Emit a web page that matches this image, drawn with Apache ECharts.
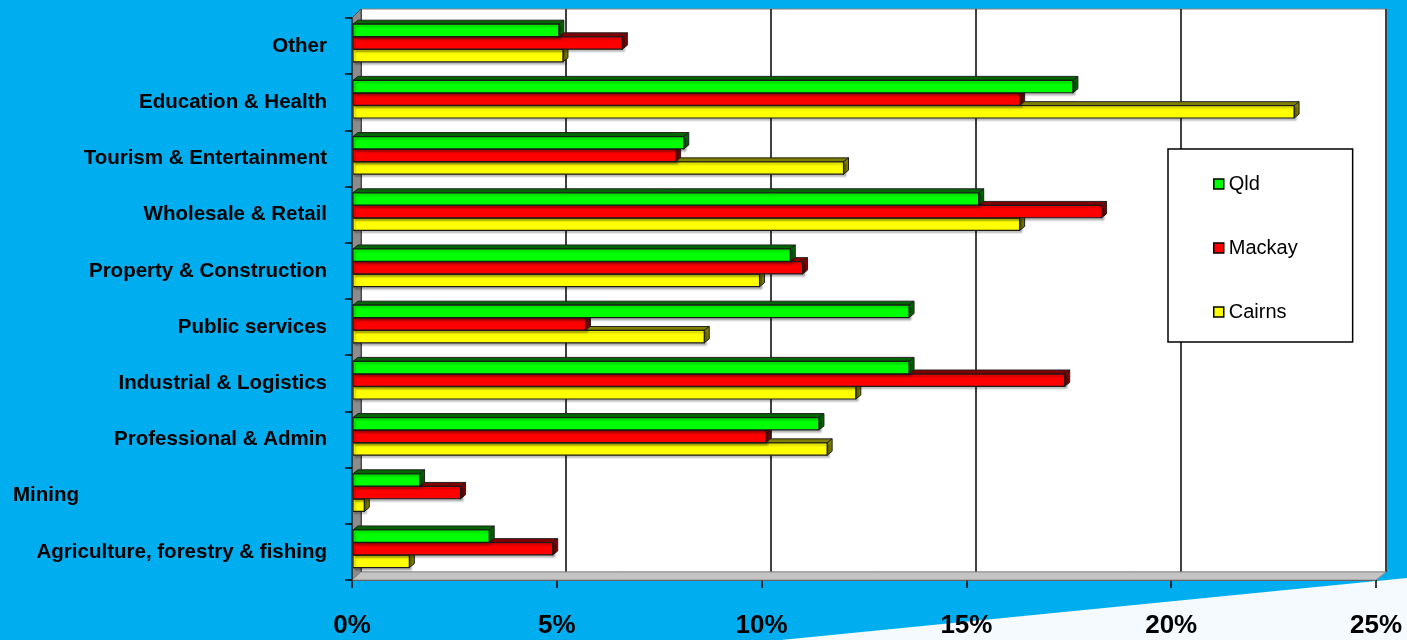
<!DOCTYPE html>
<html><head><meta charset="utf-8">
<script src="https://cdn.jsdelivr.net/npm/echarts@6/dist/echarts.min.js"></script>
<style>html,body{margin:0;padding:0;background:#00AEEF;}#c{width:1407px;height:640px;}</style>
</head><body><div id="c"></div>
<script>
const categories = ['Agriculture, forestry & fishing','Mining','Professional & Admin','Industrial & Logistics','Public services','Property & Construction','Wholesale & Retail','Tourism & Entertainment','Education & Health','Other'];
const qld    = [3.35, 1.65, 11.4, 13.6, 13.6, 10.7, 15.3, 8.1, 17.6, 5.05];
const mackay = [4.9, 2.65, 10.1, 17.4, 5.7, 11.0, 18.3, 7.9, 16.3, 6.6];
const cairns = [1.4, 0.3, 11.6, 12.3, 8.6, 9.95, 16.3, 12.0, 23.0, 5.15];
const xTicks = [0, 5, 10, 15, 20, 25];

const seriesDefs = [
  {name:'Qld', data:qld, face:'#00FF00', dark:'#006600', k:0, z:5},
  {name:'Mackay', data:mackay, face:'#FF0000', dark:'#800000', k:1, z:4},
  {name:'Cairns', data:cairns, face:'#FFFF00', dark:'#808000', k:2, z:3}
];

function makeRender(def){
  return function(params, api){
    const val = api.value(0), ci = api.value(1);
    const c = api.coord([0, ci]);
    const e = api.coord([val, ci]);
    const bh = api.size([0, 1])[1];
    const pitch = bh * 0.225;
    const y0 = c[1] - bh * 0.39 + def.k * pitch;
    const h = pitch - 0.3;
    const x0 = c[0] + 1, x1 = e[0];
    const dx = 5, dy = -4;
    return {type:'group', children:[
      {type:'polygon', shape:{points:[[x0,y0],[x0+dx,y0+dy],[x1+dx,y0+dy],[x1,y0]]},
        style:{fill:def.dark, stroke:'#202020', lineWidth:1}},
      {type:'polygon', shape:{points:[[x1,y0],[x1+dx,y0+dy],[x1+dx,y0+h+dy],[x1,y0+h]]},
        style:{fill:def.dark, stroke:'#202020', lineWidth:1}},
      {type:'rect', shape:{x:x0, y:y0, width:Math.max(0,x1-x0), height:h},
        style:{fill:def.face, stroke:'#1a1a1a', lineWidth:1.2, shadowColor:'rgba(0,0,0,0.25)', shadowBlur:2, shadowOffsetX:2, shadowOffsetY:2}}
    ]};
  };
}

const chart = echarts.init(document.getElementById('c'), null, {renderer:'canvas'});
const option = {
  backgroundColor:'#00AEEF',
  animation:false,
  textStyle:{fontFamily:'Liberation Sans, Arial, sans-serif'},
  graphic:[
    {type:'polygon', z:-10, shape:{points:[[781,640],[1407,578],[1407,640]]}, style:{fill:'#F4FAFE'}},
    {type:'polygon', z:1, shape:{points:[[352,18],[361,9],[361,572],[352,580]]}, style:{fill:'#8c8c8c', stroke:'#505050', lineWidth:1}},
    {type:'polygon', z:1, shape:{points:[[352,580],[361,572],[1386,572],[1376,580]]}, style:{fill:'#c4c4c4', stroke:'#909090', lineWidth:1}}
  ],
  legend:{
    orient:'vertical', left:1168, top:149,
    data:['Qld','Mackay','Cairns'],
    backgroundColor:'#fff', borderColor:'#000', borderWidth:1.5,
    padding:[25, 55, 20, 45],
    itemGap:44, itemWidth:10, itemHeight:10, icon:'rect',
    itemStyle:{borderColor:'#000', borderWidth:1.5},
    textStyle:{fontSize:20, color:'#000', fontFamily:'Liberation Sans, Arial, sans-serif'}
  },
  grid:[
    {left:361, right:21, top:9, bottom:68, show:true, backgroundColor:'#fff', borderColor:'#808080', borderWidth:1},
    {left:352, right:31, top:18, bottom:60}
  ],
  xAxis:[
    {gridIndex:0, type:'value', min:0, max:25, interval:5, axisLabel:{show:false}, axisTick:{show:false}, axisLine:{show:false},
      splitLine:{show:true, lineStyle:{color:'#404040', width:2}}},
    {gridIndex:1, type:'value', min:0, max:25, interval:5, splitLine:{show:false},
      axisLine:{show:true, lineStyle:{color:'#3a3a3a', width:2}},
      axisTick:{show:true, length:8, lineStyle:{color:'#000', width:1.5}},
      axisLabel:{margin:33, fontSize:26, fontWeight:'bold', color:'#000',
        formatter:function(v){ return xTicks.indexOf(v) >= 0 ? v + '%' : ''; }}}
  ],
  yAxis:[
    {gridIndex:0, type:'category', data:categories, show:false},
    {gridIndex:1, type:'category', data:categories, z:3,
      axisLine:{show:true, lineStyle:{color:'#3a3a3a', width:2}},
      axisTick:{show:true, length:7, lineStyle:{color:'#000', width:1.5}},
      splitLine:{show:false},
      axisLabel:{margin:25, fontSize:20.5, fontWeight:'bold', color:'#000',
        formatter:function(v){ return v === 'Mining' ? '{m|' + v + '}' : v; },
        rich:{m:{width:314, align:'left', fontSize:20.5, fontWeight:'bold', color:'#000'}}}}
  ],
  series: seriesDefs.map(function(def){
    return {
      name:def.name, type:'custom', xAxisIndex:1, yAxisIndex:1, z:def.z,
      itemStyle:{color:def.face},
      renderItem: makeRender(def),
      encode:{x:0, y:1},
      data: def.data.map(function(v, i){ return [v, i]; })
    };
  })
};
chart.setOption(option);
</script>
</body></html>
